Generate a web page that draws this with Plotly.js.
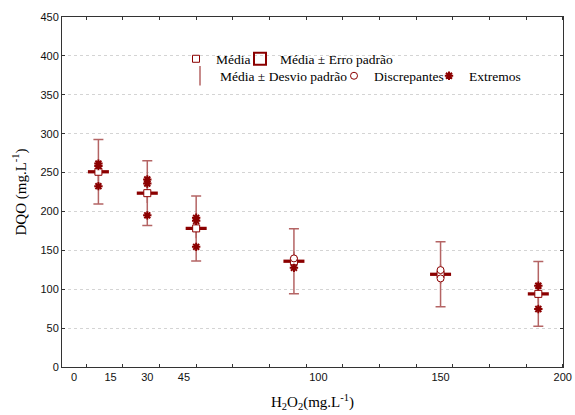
<!DOCTYPE html>
<html>
<head>
<meta charset="utf-8">
<script src="https://cdn.plot.ly/plotly-3.0.1.min.js"></script>
<style>
  html, body { margin: 0; padding: 0; background: #ffffff; }
  #chart { width: 575px; height: 415px; }
</style>
</head>
<body>
<div id="chart"></div>
<script>
// ---- data ----
const groupX = [10, 30, 50, 90, 150, 190];          // plotted position of each group on the H2O2 axis
const meanDQO = [251, 223.5, 178.2, 136, 119.2, 94];  // Média
const seDQO = [2.1, 2.1, 2.1, 2.1, 2.1, 2.1];         // Erro padrão
const sdDQO = [41.5, 41.7, 41.8, 41.7, 41.8, 41.7];   // Desvio padrão

const outlierGroup = [3, 4, 4];                       // Discrepantes (group index)
const outlierDQO = [139.6, 124.6, 113.9];

const extremeGroup = [0, 0, 0, 1, 1, 1, 2, 2, 2, 3, 5, 5]; // Extremos (group index)
const extremeDQO = [261.5, 258.5, 232.5, 241, 236, 195, 191.8, 187.9, 154.5, 127.5, 104.4, 74.5];

const xTickVals = [0, 15, 30, 45, 100, 150, 200];
const xTickText = ['0', '15', '30', '45', '100', '150', '200'];
const yTickVals = [0, 50, 100, 150, 200, 250, 300, 350, 400, 450];

// ---- styling ----
const RED = '#8b0000';
const WHISK = '#b46464';
const serif = 'Liberation Serif';
const sans = 'Liberation Sans';

const traces = [
  { // Média ± Erro padrão (box)
    type: 'bar',
    x: groupX,
    base: meanDQO.map((m, i) => m - seDQO[i]),
    y: seDQO.map(s => 2 * s),
    width: 8.6,
    marker: { color: RED, line: { width: 0 } },
    showlegend: false,
    hoverinfo: 'skip'
  },
  { // Média ± Desvio padrão (whiskers)
    type: 'scatter', mode: 'markers',
    x: groupX, y: meanDQO,
    name: 'Média ± Desvio padrão',
    legend: 'legend3',
    marker: { symbol: 'line-ns-open', size: 14, color: WHISK, line: { color: WHISK, width: 1.5 } },
    error_y: { type: 'data', array: sdDQO, visible: true, color: WHISK, thickness: 1.5, width: 5 }
  },
  { // Média
    type: 'scatter', mode: 'markers',
    x: groupX, y: meanDQO,
    name: 'Média',
    legend: 'legend',
    marker: { symbol: 'square', size: 7, color: '#ffffff', line: { color: RED, width: 1 } }
  },
  { // Discrepantes
    type: 'scatter', mode: 'markers',
    x: outlierGroup.map(g => groupX[g]), y: outlierDQO,
    name: 'Discrepantes',
    legend: 'legend4',
    marker: { symbol: 'circle', size: 7, color: '#ffffff', line: { color: RED, width: 1 } }
  },
  { // Extremos
    type: 'scatter', mode: 'markers',
    x: extremeGroup.map(g => groupX[g]), y: extremeDQO,
    name: 'Extremos',
    legend: 'legend5',
    marker: { symbol: 'asterisk-open', size: 7, color: RED, line: { color: RED, width: 2 } }
  },
  { // legend key for the standard-error box
    type: 'scatter', mode: 'markers',
    x: [null], y: [null],
    name: 'Média ± Erro padrão',
    legend: 'legend2',
    marker: { symbol: 'square-open', size: 12, color: RED, line: { color: RED, width: 2 } },
    hoverinfo: 'skip'
  }
];

// plot area in pixels (for placing the legend keys)
const PL = 62, PR = 563, PT = 17, PB = 367;
function lg(leftPx, centerYPx) {
  return {
    orientation: 'h',
    itemwidth: 30,
    font: { family: serif, size: 13.5, color: '#000000' },
    bgcolor: 'rgba(0,0,0,0)',
    borderwidth: 0,
    xref: 'paper', yref: 'paper',
    xanchor: 'left', yanchor: 'middle',
    x: (leftPx - PL) / (PR - PL),
    y: 1 - (centerYPx - PT) / (PB - PT)
  };
}

const layout = {
  width: 575, height: 415,
  paper_bgcolor: '#ffffff', plot_bgcolor: '#ffffff',
  font: { family: serif, size: 14, color: '#000' },
  margin: { l: PL, r: 575 - PR, t: PT, b: 415 - PB, autoexpand: false },
  showlegend: true,
  barmode: 'overlay',
  legend: lg(176, 59),
  legend2: lg(240, 59),
  legend3: lg(180, 76),
  legend4: lg(334, 76),
  legend5: lg(429, 76),
  xaxis: {
    range: [-4.9, 200.1],
    tickmode: 'array', tickvals: xTickVals, ticktext: xTickText,
    ticks: '',
    minor: { tickmode: 'linear', tick0: 5, dtick: 15, ticks: 'inside', ticklen: 3, tickcolor: '#333', showgrid: false },
    showgrid: false, zeroline: false,
    showline: true, linecolor: '#333', linewidth: 1, mirror: 'ticks',
    tickfont: { family: sans, size: 11, color: '#111' },
    title: { text: 'H<sub>2</sub>O<sub>2</sub>(mg.L<sup>-1</sup>)', font: { family: serif, size: 15, color: '#000' }, standoff: 14 }
  },
  yaxis: {
    range: [0, 450],
    tickmode: 'array', tickvals: yTickVals,
    ticks: 'inside', ticklen: 3, tickcolor: '#333',
    showgrid: true, gridcolor: '#d4d4d4', griddash: 'dot', gridwidth: 1,
    zeroline: false,
    showline: true, linecolor: '#333', linewidth: 1, mirror: 'ticks',
    tickfont: { family: sans, size: 11, color: '#111' },
    title: { text: 'DQO (mg.L<sup>-1</sup>)', font: { family: serif, size: 15, color: '#000' }, standoff: 10 }
  }
};

Plotly.newPlot('chart', traces, layout, { displayModeBar: false, staticPlot: true });
</script>
</body>
</html>
